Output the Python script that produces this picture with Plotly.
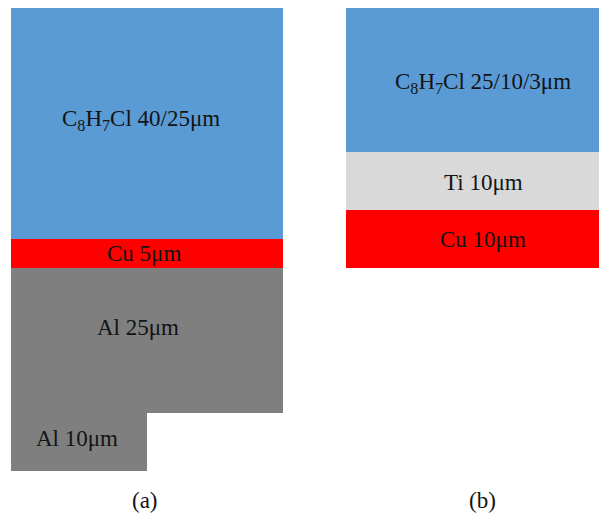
import plotly.graph_objects as go
import numpy as np

# ---- data (layer thicknesses in µm) ----
panel_a_labels = ["C<sub>8</sub>H<sub>7</sub>Cl 40/25μm", "Cu 5μm", "Al 25μm", "Al 10μm"]
panel_a_thickness = [40, 5, 25, 10]
panel_b_labels = ["C<sub>8</sub>H<sub>7</sub>Cl 25/10/3μm", "Ti 10μm", "Cu 10μm"]
panel_b_thickness = [25, 10, 10]
captions = ["(a)", "(b)"]

# ---- styles / layout ----
OFF = 8            # page body margin
W, H = 607 - OFF, 516 - OFF
PX = 5.8           # pixels per µm
TOP = 7 - OFF      # figure-pixel y of top edge
colors_a = ["#5B9BD5", "#FF0000", "#7F7F7F", "#7F7F7F"]
colors_b = ["#5B9BD5", "#D9D9D9", "#FF0000"]
FONT = "Liberation Serif, Times New Roman, serif"

def px_x(p):
    return (p - OFF) / PX

def px_y(p):
    return (p - OFF - TOP) / PX

a_left, a_right, a_step = px_x(11), px_x(283), px_x(147)
b_left, b_right = px_x(346), px_x(608)

a_x = [(a_left + a_right) / 2] * 3 + [(a_left + a_step) / 2]
a_w = [a_right - a_left] * 3 + [a_step - a_left]
a_base = list(np.concatenate([[0], np.cumsum(panel_a_thickness)[:-1]]))

b_x = [(b_left + b_right) / 2] * 3
b_w = [b_right - b_left] * 3
b_base = list(np.concatenate([[0], np.cumsum(panel_b_thickness)[:-1]]))

fig = go.Figure()
fig.add_trace(go.Bar(x=a_x, y=panel_a_thickness, base=a_base, width=a_w,
                     marker=dict(color=colors_a, line=dict(width=0)),
                     hoverinfo="skip", showlegend=False))
fig.add_trace(go.Bar(x=b_x, y=panel_b_thickness, base=b_base, width=b_w,
                     marker=dict(color=colors_b, line=dict(width=0)),
                     hoverinfo="skip", showlegend=False))

ann_font = dict(family=FONT, size=23, color="#141414")
shifts_a = [(-6, 3), (-3, 0), (-9, 13), (-2, 4)]
for i, lab in enumerate(panel_a_labels):
    fig.add_annotation(x=a_x[i], y=a_base[i] + panel_a_thickness[i] / 2, text=lab,
                       showarrow=False, font=ann_font,
                       xshift=shifts_a[i][0], yshift=shifts_a[i][1])
shifts_b = [(6, -3), (6, -1), (6, 0)]
for i, lab in enumerate(panel_b_labels):
    fig.add_annotation(x=b_x[i], y=b_base[i] + panel_b_thickness[i] / 2, text=lab,
                       showarrow=False, font=ann_font,
                       xshift=shifts_b[i][0], yshift=shifts_b[i][1])

cap_y = px_y(500)
for cx, cap in zip([px_x(145), px_x(482)], captions):
    fig.add_annotation(x=cx, y=cap_y, text=cap, showarrow=False, font=ann_font)

fig.update_layout(
    width=W, height=H,
    margin=dict(l=0, r=0, t=0, b=0),
    paper_bgcolor="white", plot_bgcolor="white",
    barmode="overlay",
    xaxis=dict(range=[0, W / PX], visible=False, fixedrange=True),
    yaxis=dict(range=[(H - TOP) / PX, -TOP / PX], visible=False, fixedrange=True),
)
fig.write_html("out.html")
